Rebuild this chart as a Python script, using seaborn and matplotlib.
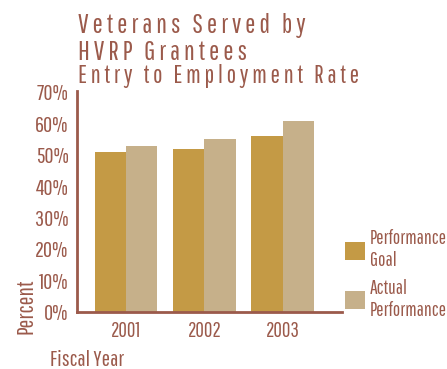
import matplotlib
matplotlib.use("Agg")
import matplotlib.pyplot as plt
import seaborn as sns
import pandas as pd

years = ["2001", "2002", "2003"]
goal = [51, 52, 56]
actual = [53, 55, 61]
series = ["Performance Goal", "Actual Performance"]
legend_labels = ["Performance\nGoal", "Actual\nPerformance"]
yticks = [0, 10, 20, 30, 40, 50, 60, 70]

df = pd.DataFrame({
    "Fiscal Year": years * 2,
    "Percent": goal + actual,
    "Series": [series[0]] * 3 + [series[1]] * 3,
})

TXT = "#9B5A4B"
GOAL_C = "#C49A45"
ACT_C = "#C6B08A"

sns.set_theme(style="white")
plt.rcParams["font.family"] = ["Pathway Gothic One", "DejaVu Sans"]

fig = plt.figure(figsize=(4.47, 3.69), dpi=100)
ax = fig.add_axes([0.172, 0.154, 0.593, 0.600])

sns.barplot(data=df, x="Fiscal Year", y="Percent", hue="Series",
            palette=[GOAL_C, ACT_C], width=0.8, gap=0, ax=ax,
            saturation=1, edgecolor="none", linewidth=0)

ax.set_xlim(-0.63, 2.76)
ax.set_ylim(0, 70.5)
ax.set_yticks(yticks)
ax.set_yticklabels([f"{v}%" for v in yticks])
for s in ["top", "right"]:
    ax.spines[s].set_visible(False)
for s in ["left", "bottom"]:
    ax.spines[s].set_color(TXT)
    ax.spines[s].set_linewidth(2)
ax.tick_params(axis="both", length=0, colors=TXT, labelsize=16, pad=6)
ax.tick_params(axis="x", labelsize=15, pad=6)
ax.set_xlabel("")
ax.set_ylabel("")

handles, _ = ax.get_legend_handles_labels()
ax.legend(handles, legend_labels, loc="lower left", bbox_to_anchor=(1.01, -0.035),
          frameon=False, fontsize=14, labelcolor=TXT, handlelength=1.05,
          handleheight=1.05, handletextpad=0.25, labelspacing=0.45,
          borderaxespad=0, borderpad=0)

fig.text(0.058, 0.171, "Percent", rotation=90, color=TXT, fontsize=17,
         ha="center", va="center")
fig.text(0.112, 0.008, "Fiscal Year", color=TXT, fontsize=16, ha="left", va="baseline")

fig.text(0.174, 0.911, "V e t e r a n s   S e r v e d   b y", color=TXT, fontsize=19.5, ha="left", va="baseline")
fig.text(0.174, 0.837, "H V R P   G r a n t e e s", color=TXT, fontsize=19.5, ha="left", va="baseline")
fig.text(0.174, 0.775, "E n t r y   t o   E m p l o y m e n t   R a t e", color=TXT, fontsize=18, ha="left", va="baseline")

fig.savefig("out.png", dpi=100)
